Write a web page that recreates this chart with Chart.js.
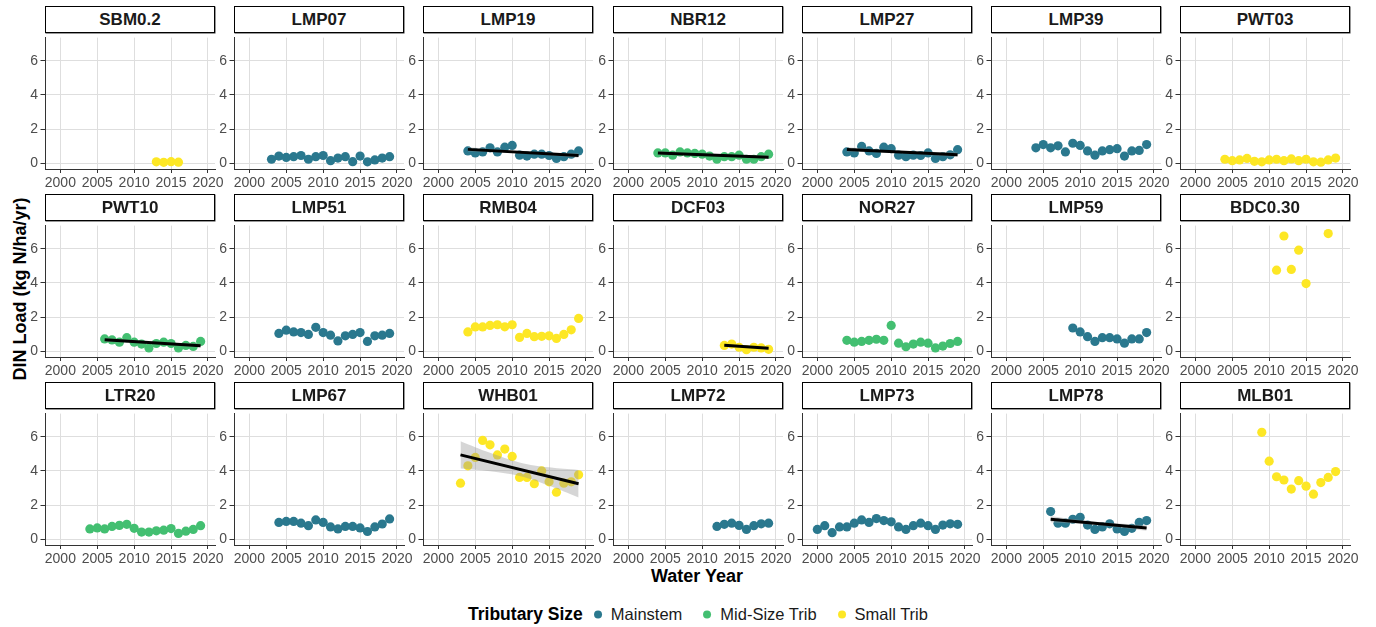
<!DOCTYPE html>
<html>
<head>
<meta charset="utf-8">
<script src="https://cdn.jsdelivr.net/npm/chart.js@4.4.1/dist/chart.umd.min.js"></script>
<style>
  body { margin: 0; background: #fff; font-family: "Liberation Sans", Arial, sans-serif; }
  #page { position: relative; width: 1376px; height: 627px; overflow: hidden; background: #fff; }
  canvas { position: absolute; }
  .strip {
    position: absolute; box-sizing: border-box; border: 1px solid #000; background: #fff;
    box-shadow: 0.5px 0.5px 0 #333;
    font-weight: bold; font-size: 17px; color: #1a1a1a; text-align: center; line-height: 25px;
  }
  .ytitle {
    position: absolute; left: 20px; top: 289px; transform: translate(-50%, -50%) rotate(-90deg);
    font-weight: bold; font-size: 18px; color: #000; white-space: nowrap;
  }
  .xtitle {
    position: absolute; left: 697px; top: 576px; transform: translate(-50%, -50%);
    font-weight: bold; font-size: 18px; color: #000; white-space: nowrap;
  }
  .legend {
    position: absolute; left: 698px; top: 614px; transform: translate(-50%, -50%);
    display: flex; align-items: center; white-space: nowrap; color: #1a1a1a;
  }
  .legend .title { font-weight: bold; font-size: 17.5px; margin-right: 11px; color: #000; }
  .legend .dot { width: 8px; height: 8px; border-radius: 50%; margin-right: 9px; }
  .legend .lab { font-size: 16.5px; margin-right: 21px; }
  .legend .lab:last-child { margin-right: 0; }
</style>
</head>
<body>
<div id="page">
  <div class="ytitle">DIN Load (kg N/ha/yr)</div>
  <div class="xtitle">Water Year</div>
  <div class="legend" id="legend"><span class="title">Tributary Size</span></div>
</div>
<script>
// site panels, row by row
const sites = ['SBM0.2', 'LMP07', 'LMP19', 'NBR12', 'LMP27', 'LMP39', 'PWT03',
               'PWT10', 'LMP51', 'RMB04', 'DCF03', 'NOR27', 'LMP59', 'BDC0.30',
               'LTR20', 'LMP67', 'WHB01', 'LMP72', 'LMP73', 'LMP78', 'MLB01'];
const siteSize = ['Small Trib', 'Mainstem', 'Mainstem', 'Mid-Size Trib', 'Mainstem', 'Mainstem', 'Small Trib',
                  'Mid-Size Trib', 'Mainstem', 'Small Trib', 'Small Trib', 'Mid-Size Trib', 'Mainstem', 'Small Trib',
                  'Mid-Size Trib', 'Mainstem', 'Small Trib', 'Mainstem', 'Mainstem', 'Mainstem', 'Small Trib'];
const firstYear = [2013, 2003, 2004, 2004, 2004, 2004, 2004,
                   2006, 2004, 2004, 2013, 2004, 2009, 2011,
                   2004, 2004, 2003, 2012, 2000, 2006, 2009];

// annual DIN load (kg N/ha/yr), one value per water year from firstYear
const sbm02  = [0.08, 0.05, 0.09, 0.06];
const lmp07  = [0.23, 0.42, 0.34, 0.38, 0.45, 0.23, 0.38, 0.45, 0.15, 0.30, 0.38, 0.09, 0.42, 0.08, 0.19, 0.30, 0.38];
const lmp19  = [0.72, 0.60, 0.66, 0.90, 0.66, 0.94, 1.04, 0.47, 0.42, 0.53, 0.53, 0.45, 0.28, 0.38, 0.53, 0.72];
const nbr12  = [0.60, 0.60, 0.47, 0.66, 0.60, 0.57, 0.53, 0.42, 0.23, 0.38, 0.38, 0.47, 0.23, 0.23, 0.38, 0.53];
const lmp27  = [0.66, 0.60, 0.98, 0.72, 0.57, 0.94, 0.85, 0.47, 0.38, 0.47, 0.45, 0.60, 0.28, 0.38, 0.49, 0.79];
const lmp39  = [0.90, 1.09, 0.90, 1.02, 0.66, 1.17, 1.04, 0.72, 0.47, 0.72, 0.79, 0.85, 0.42, 0.72, 0.75, 1.09];
const pwt03  = [0.23, 0.15, 0.19, 0.28, 0.11, 0.08, 0.19, 0.23, 0.15, 0.25, 0.15, 0.23, 0.08, 0.06, 0.19, 0.30];
const pwt10  = [0.72, 0.66, 0.53, 0.79, 0.53, 0.42, 0.19, 0.45, 0.53, 0.45, 0.19, 0.34, 0.28, 0.57];
const lmp51  = [1.04, 1.23, 1.13, 1.09, 0.98, 1.40, 1.09, 0.94, 0.60, 0.90, 0.98, 1.09, 0.57, 0.90, 0.94, 1.04];
const rmb04  = [1.13, 1.42, 1.42, 1.51, 1.55, 1.43, 1.55, 0.81, 1.04, 0.85, 0.87, 0.90, 0.75, 0.98, 1.25, 1.92];
const dcf03  = [0.34, 0.42, 0.23, 0.09, 0.23, 0.19, 0.11];
const nor27  = [0.64, 0.53, 0.57, 0.64, 0.70, 0.64, 1.51, 0.47, 0.26, 0.42, 0.53, 0.47, 0.19, 0.30, 0.45, 0.57];
const lmp59  = [1.36, 1.13, 0.85, 0.57, 0.79, 0.79, 0.72, 0.47, 0.72, 0.72, 1.09];
const bdc030 = [4.75, 6.75, 4.79, 5.92, 3.96, null, null, 6.89];
const ltr20  = [0.60, 0.66, 0.60, 0.75, 0.81, 0.87, 0.64, 0.42, 0.42, 0.49, 0.53, 0.62, 0.34, 0.47, 0.57, 0.79];
const lmp67  = [0.98, 1.04, 1.04, 0.94, 0.79, 1.13, 0.98, 0.72, 0.60, 0.75, 0.75, 0.66, 0.45, 0.72, 0.89, 1.19];
const whb01  = [3.28, 4.30, 4.79, 5.79, 5.53, 4.94, 5.28, 4.85, 3.62, 3.62, 3.25, 4.00, 3.36, 2.75, 3.28, 3.36, 3.77];
const lmp72  = [0.75, 0.87, 0.94, 0.81, 0.57, 0.79, 0.90, 0.94];
const lmp73  = [0.57, 0.79, 0.38, 0.72, 0.72, 0.94, 1.13, 0.98, 1.21, 1.09, 1.02, 0.72, 0.57, 0.79, 0.94, 0.79, 0.57, 0.83, 0.90, 0.87];
const lmp78  = [1.62, 0.94, 0.94, 1.17, 1.28, 0.83, 0.57, 0.72, 0.90, 0.60, 0.45, 0.64, 0.98, 1.09];
const mlb01  = [6.26, 4.57, 3.66, 3.47, 2.94, 3.43, 3.11, 2.64, 3.32, 3.62, 3.96];
const siteLoads = [sbm02, lmp07, lmp19, nbr12, lmp27, lmp39, pwt03,
                   pwt10, lmp51, rmb04, dcf03, nor27, lmp59, bdc030,
                   ltr20, lmp67, whb01, lmp72, lmp73, lmp78, mlb01];

// linear trend fits with their confidence bands
const trendSites     = ['LMP19', 'NBR12', 'LMP27', 'PWT10', 'DCF03', 'WHB01', 'LMP78'];
const trendYears     = [[2004, 2019], [2004, 2019], [2004, 2019], [2006, 2019], [2013, 2019], [2003, 2019], [2006, 2019]];
const trendLoads     = [[0.81, 0.45], [0.60, 0.35], [0.80, 0.50], [0.67, 0.32], [0.35, 0.17], [4.94, 3.25], [1.17, 0.66]];
const bandYears      = [[2004, 2011.5, 2019], [2004, 2011.5, 2019], [2004, 2011.5, 2019], [2006, 2012.5, 2019],
                        [2013, 2016, 2019], [2003, 2007, 2011, 2015, 2019], [2006, 2012.5, 2019]];
const bandLow        = [[0.68, 0.57, 0.32], [0.50, 0.43, 0.25], [0.67, 0.59, 0.37], [0.56, 0.44, 0.21],
                        [0.28, 0.23, 0.10], [4.14, 3.98, 3.70, 3.13, 2.45], [0.99, 0.82, 0.50]];
const bandHigh       = [[0.94, 0.69, 0.58], [0.70, 0.52, 0.45], [0.93, 0.71, 0.63], [0.78, 0.55, 0.43],
                        [0.42, 0.29, 0.24], [5.74, 5.06, 4.50, 4.21, 4.05], [1.35, 1.01, 0.82]];

const sizeNames  = ['Mainstem', 'Mid-Size Trib', 'Small Trib'];
const sizeColors = ['#2A788E', '#43BF71', '#FDE725'];

const xTicks = [2000, 2005, 2010, 2015, 2020];
const yTicks = [0, 2, 4, 6];

// facet grid geometry
const NCOL = 7;
const LEFT0 = 45, COL_STEP = 189.2, TOP0 = 33, ROW_STEP = 188;
const PLOT_W = 170, PLOT_H = 136, STRIP_H = 27;
const AXIS_W = 42, AXIS_H = 26, PAD_R = 16;

const tickFont = { family: '"Liberation Sans", Arial, sans-serif', size: 14 };
const page = document.getElementById('page');

sites.forEach((site, i) => {
    const col = i % NCOL, row = Math.floor(i / NCOL);
    const plotLeft = Math.round(LEFT0 + col * COL_STEP);
    const plotTop = TOP0 + row * ROW_STEP;

    const strip = document.createElement('div');
    strip.className = 'strip';
    strip.textContent = site;
    Object.assign(strip.style, {
        left: plotLeft + 'px', top: (plotTop - STRIP_H) + 'px',
        width: PLOT_W + 'px', height: STRIP_H + 'px'
    });
    page.appendChild(strip);

    const canvas = document.createElement('canvas');
    canvas.width = AXIS_W + PLOT_W + PAD_R;
    canvas.height = PLOT_H + AXIS_H;
    canvas.style.left = (plotLeft - AXIS_W) + 'px';
    canvas.style.top = plotTop + 'px';
    page.appendChild(canvas);

    const color = sizeColors[sizeNames.indexOf(siteSize[i])];
    const points = siteLoads[i]
        .map((v, k) => ({ x: firstYear[i] + k, y: v }))
        .filter(p => p.y !== null);

    const datasets = [];
    const t = trendSites.indexOf(site);
    if (t >= 0) {
        datasets.push({
            data: trendYears[t].map((x, k) => ({ x, y: trendLoads[t][k] })),
            showLine: true, pointRadius: 0, borderColor: '#000', borderWidth: 3, order: 1
        });
        datasets.push({
            data: bandYears[t].map((x, k) => ({ x, y: bandHigh[t][k] })),
            showLine: true, pointRadius: 0, borderColor: 'rgba(0,0,0,0)', borderWidth: 1,
            tension: 0.4, fill: '+1', backgroundColor: 'rgba(153,153,153,0.4)', order: 2
        });
        datasets.push({
            data: bandYears[t].map((x, k) => ({ x, y: bandLow[t][k] })),
            showLine: true, pointRadius: 0, borderColor: 'rgba(0,0,0,0)', borderWidth: 1,
            tension: 0.4, fill: false, order: 2
        });
    }
    datasets.push({
        data: points, pointRadius: 4.6, pointBorderWidth: 0,
        pointBackgroundColor: color, backgroundColor: color, order: 3
    });

    new Chart(canvas, {
        type: 'scatter',
        data: { datasets },
        options: {
            responsive: false,
            animation: false,
            events: [],
            layout: { padding: { left: 0, top: 0, right: PAD_R, bottom: 0 } },
            plugins: { legend: { display: false }, tooltip: { enabled: false } },
            scales: {
                x: {
                    type: 'linear', min: 1997.92, max: 2020.95,
                    afterBuildTicks: s => { s.ticks = xTicks.map(v => ({ value: v })); },
                    afterFit: s => { s.height = AXIS_H; s.paddingLeft = 0; s.paddingRight = 0; },
                    grid: { color: '#dedede', lineWidth: 1, tickColor: '#333', tickLength: 4 },
                    border: { color: '#333', width: 1 },
                    ticks: { color: '#4d4d4d', font: tickFont, padding: 2, maxRotation: 0, autoSkip: false,
                             callback: v => String(v) }
                },
                y: {
                    type: 'linear', min: -0.34, max: 7.36,
                    afterBuildTicks: s => { s.ticks = yTicks.map(v => ({ value: v })); },
                    afterFit: s => { s.width = AXIS_W; s.paddingTop = 0; s.paddingBottom = 0; },
                    grid: { color: '#dedede', lineWidth: 1, tickColor: '#333', tickLength: 4.5 },
                    border: { color: '#333', width: 1 },
                    ticks: { color: '#4d4d4d', font: tickFont, padding: 2.5, callback: v => String(v) }
                }
            }
        }
    });
});

// legend keys
const legend = document.getElementById('legend');
sizeNames.forEach((name, k) => {
    const dot = document.createElement('span');
    dot.className = 'dot';
    dot.style.background = sizeColors[k];
    const lab = document.createElement('span');
    lab.className = 'lab';
    lab.textContent = name;
    legend.appendChild(dot);
    legend.appendChild(lab);
});
</script>
</body>
</html>
